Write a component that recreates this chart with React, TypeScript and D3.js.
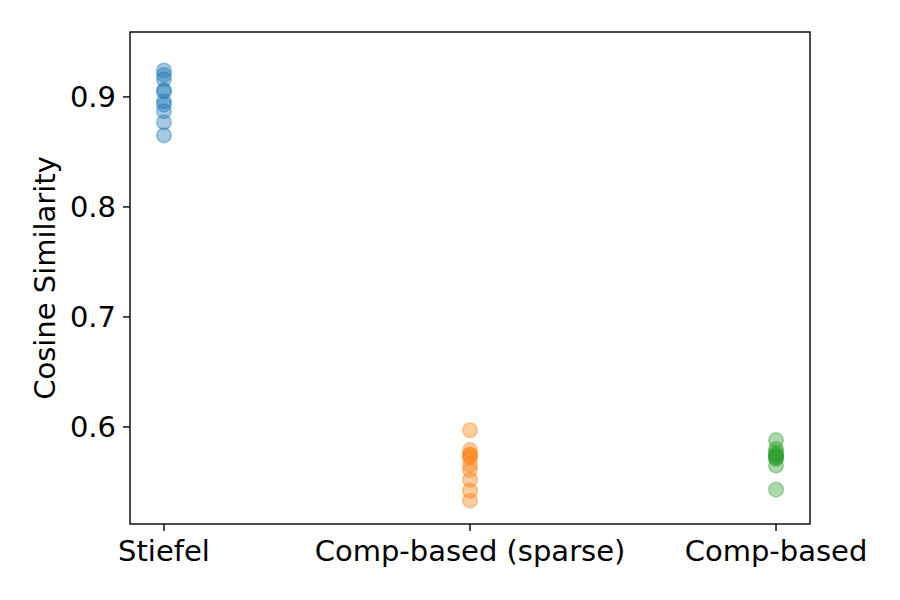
import React from "react";
import * as d3 from "d3";

const categories = ["Stiefel", "Comp-based (sparse)", "Comp-based"];
const stiefel = [0.924, 0.92, 0.916, 0.906, 0.905, 0.896, 0.893, 0.887, 0.877, 0.865];
const compSparse = [0.597, 0.579, 0.575, 0.5745, 0.572, 0.5655, 0.561, 0.552, 0.542, 0.533];
const compBased = [0.588, 0.58, 0.577, 0.575, 0.574, 0.573, 0.572, 0.571, 0.565, 0.543];
const yTicks = [0.6, 0.7, 0.8, 0.9];
const colors = ["#1f77b4", "#ff7f0e", "#2ca02c"];

export default function App() {
  const W = 900, H = 600;
  const left = 130, right = 810, top = 32, bottom = 524;
  const x = d3.scaleLinear().domain([-0.111, 2.111]).range([left, right]);
  const y = d3.scaleLinear().domain([0.5118, 0.959]).range([bottom, top]);
  const series = [stiefel, compSparse, compBased];
  const font = "DejaVu Sans, sans-serif";
  const fs = 29;
  return (
    <svg width={W} height={H} style={{ position: "absolute", left: 0, top: 0, background: "#fff" }}>
      <rect width={W} height={H} fill="#fff" />
      {series.map((vals, i) =>
        vals.map((v, j) => (
          <circle key={`${i}-${j}`} cx={x(i)} cy={y(v)} r={7.3}
            fill={colors[i]} fillOpacity={0.4} stroke={colors[i]} strokeOpacity={0.4} strokeWidth={1.5} />
        ))
      )}
      <rect x={left} y={top} width={right - left} height={bottom - top} fill="none" stroke="#000" strokeWidth={1.4} />
      {yTicks.map((t) => (
        <g key={t}>
          <line x1={left} x2={left - 7} y1={y(t)} y2={y(t)} stroke="#000" strokeWidth={1.4} />
          <text x={left - 14} y={y(t)} dy="0.36em" textAnchor="end" fontFamily={font} fontSize={fs}>{t.toFixed(1)}</text>
        </g>
      ))}
      {categories.map((c, i) => (
        <g key={c}>
          <line x1={x(i)} x2={x(i)} y1={bottom} y2={bottom + 7} stroke="#000" strokeWidth={1.4} />
          <text x={x(i)} y={bottom + 37} textAnchor="middle" fontFamily={font} fontSize={fs}>{c}</text>
        </g>
      ))}
      <text transform={`translate(55,${(top + bottom) / 2}) rotate(-90)`} textAnchor="middle" fontFamily={font} fontSize={fs}>Cosine Similarity</text>
    </svg>
  );
}
